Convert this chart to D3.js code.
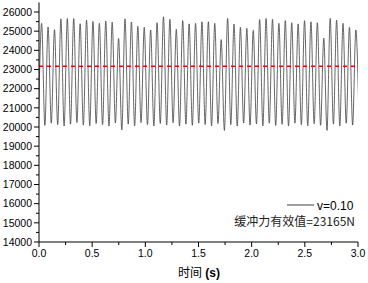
<!DOCTYPE html>
<html>
<head>
<meta charset="utf-8">
<script src="https://cdn.jsdelivr.net/npm/d3@7"></script>
<style>
  body { margin: 0; background: #fff; }
  svg { display: block; }
  text { font-family: "Liberation Sans", Arial, sans-serif; }
</style>
</head>
<body>
<svg id="chart" width="368" height="283"></svg>
<script>
// peak values of the force signal (N), one per cycle
const peaks = [25410, 25220, 25080, 25640, 25660, 25660, 25390, 25580, 25510, 25410,
               25530, 25470, 24620, 25640, 25480, 25250, 25210, 25060, 25440, 25750,
               25620, 25100, 25550, 25380, 25410, 25490, 25490, 25410, 24560, 25670,
               25370, 25200, 25150, 25040, 25610, 25660, 25620, 25410, 25550, 25440,
               25380, 25550, 25490, 25440, 24630, 25670, 25580, 25410, 25200, 25060];
// trough values: one before the first peak, then one after each peak
const troughs = [20150, 20080, 20200, 20120, 20050, 20150, 20230, 20100, 20060, 20180,
                 20120, 20050, 20210, 19850, 20150, 20060, 20230, 20120, 20050, 20180,
                 20100, 20220, 20050, 20150, 20090, 20200, 20130, 20060, 20180, 19820,
                 20120, 20050, 20210, 20100, 20160, 20060, 20200, 20080, 20140, 20050,
                 20200, 20120, 20060, 20170, 20090, 19820, 20150, 20050, 20200, 20100, 20180];
const firstPeak = 0.025;   // s
const period = 0.0603;     // s
const rmsValue = 23165;
const xTicks = [0, 0.5, 1.0, 1.5, 2.0, 2.5, 3.0];
const yTicks = [14000, 15000, 16000, 17000, 18000, 19000, 20000, 21000, 22000, 23000, 24000, 25000, 26000];
const legendLabel = "v=0.10";
const rmsLabel = "缓冲力有效值=23165N";

const svg = d3.select("#chart");

const x = d3.scaleLinear().domain([0, 3]).range([39, 358]);
const y = d3.scaleLinear().domain([14000, 26500]).range([242, 242 - 12500 * 230 / 12000]);

// extremum points of the signal
const pts = [];
troughs.forEach((v, j) => {
    pts.push({t: firstPeak + (j - 0.5) * period, v: v});
    if (j < peaks.length) pts.push({t: firstPeak + j * period, v: peaks[j]});
});
pts.sort((a, b) => a.t - b.t);

svg.append("clipPath").attr("id", "clip")
    .append("rect")
    .attr("x", x(0)).attr("y", 0)
    .attr("width", x(3) - x(0)).attr("height", 283);

const line = d3.line()
    .x(d => x(d.t))
    .y(d => y(d.v))
    .curve(d3.curveMonotoneX);

svg.append("path")
    .datum(pts)
    .attr("clip-path", "url(#clip)")
    .attr("d", line)
    .attr("fill", "none")
    .attr("stroke", "#404040")
    .attr("stroke-width", 0.8);

// rms line
svg.append("line")
    .attr("x1", x(0)).attr("x2", x(3))
    .attr("y1", y(rmsValue)).attr("y2", y(rmsValue))
    .attr("stroke", "#ff0000")
    .attr("stroke-width", 1.5)
    .attr("stroke-dasharray", "4,4");

// y axis
const yAxis = svg.append("g").attr("transform", `translate(${x(0)},0)`);
yAxis.append("line")
    .attr("y1", y(14000)).attr("y2", y(26500))
    .attr("stroke", "#000");
yAxis.selectAll(".minor")
    .data(d3.range(14500, 26500, 1000))
    .enter().append("line")
    .attr("x1", -3).attr("x2", 0)
    .attr("y1", d => y(d)).attr("y2", d => y(d))
    .attr("stroke", "#000");
yAxis.selectAll(".major")
    .data(yTicks)
    .enter().append("line")
    .attr("x1", -5).attr("x2", 0)
    .attr("y1", d => y(d)).attr("y2", d => y(d))
    .attr("stroke", "#000");
yAxis.selectAll("text")
    .data(yTicks)
    .enter().append("text")
    .attr("x", -7)
    .attr("y", d => y(d))
    .attr("dy", "0.36em")
    .attr("text-anchor", "end")
    .style("font-size", "10.5px")
    .text(d => d);

// x axis
const xAxis = svg.append("g").attr("transform", `translate(0,${y(14000)})`);
xAxis.append("line")
    .attr("x1", x(0)).attr("x2", x(3))
    .attr("stroke", "#000");
xAxis.selectAll(".minor")
    .data([0.25, 0.75, 1.25, 1.75, 2.25, 2.75])
    .enter().append("line")
    .attr("x1", d => x(d)).attr("x2", d => x(d))
    .attr("y1", 0).attr("y2", 3)
    .attr("stroke", "#000");
xAxis.selectAll(".major")
    .data(xTicks)
    .enter().append("line")
    .attr("x1", d => x(d)).attr("x2", d => x(d))
    .attr("y1", 0).attr("y2", 5)
    .attr("stroke", "#000");
xAxis.selectAll("text")
    .data(xTicks)
    .enter().append("text")
    .attr("x", d => x(d))
    .attr("y", 15)
    .attr("text-anchor", "middle")
    .style("font-size", "10.5px")
    .text(d => d.toFixed(1));

const title = svg.append("text")
    .attr("x", 199).attr("y", 277)
    .attr("text-anchor", "middle")
    .style("font-size", "12px");
title.append("tspan")
    .style("font-family", "'Noto Sans CJK SC', sans-serif")
    .text("时间");
title.append("tspan")
    .style("font-weight", "bold")
    .text(" (s)");

// legend
svg.append("line")
    .attr("x1", 287).attr("x2", 314)
    .attr("y1", 205).attr("y2", 205)
    .attr("stroke", "#404040");
svg.append("text")
    .attr("x", 317).attr("y", 209.5)
    .style("font-size", "12px")
    .text(legendLabel);
svg.append("text")
    .attr("x", 355).attr("y", 226)
    .attr("text-anchor", "end")
    .style("font-family", "'Noto Sans CJK SC', sans-serif")
    .style("font-size", "12px")
    .style("fill", "#222")
    .text(rmsLabel);
</script>
</body>
</html>
